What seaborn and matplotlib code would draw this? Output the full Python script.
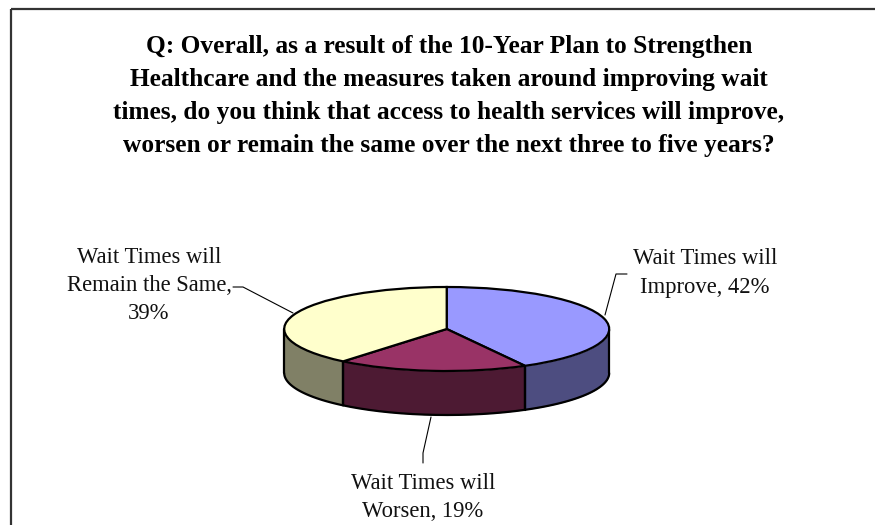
import numpy as np
import matplotlib
matplotlib.use("Agg")
import matplotlib.pyplot as plt
import seaborn as sns

# Survey results
categories = ["Wait Times will\nImprove", "Wait Times will\nWorsen", "Wait Times will\nRemain the Same"]
shares = [42, 19, 39]
top_colors = ["#9999FF", "#993366", "#FFFFCC"]
side_colors = ["#4D4D80", "#4D1A33", "#808066"]
title_lines = [
    "Q: Overall, as a result of the 10-Year Plan to Strengthen",
    "Healthcare and the measures taken around improving wait",
    "times, do you think that access to health services will improve,",
    "worsen or remain the same over the next three to five years?",
]

sns.set_theme(style="white")
plt.rcParams["font.family"] = ["Liberation Serif", "DejaVu Serif"]

W, H = 875, 525
fig = plt.figure(figsize=(W / 100, H / 100), dpi=100, facecolor="white")

# Full-figure layer measured in pixels, for the frame, text and leader lines
page = fig.add_axes([0, 0, 1, 1])
page.set_xlim(0, W)
page.set_ylim(H, 0)
page.axis("off")

# Disc geometry in pixels
cx, cy, rx, ry, depth = 446.7, 329.0, 162.5, 42.0, 44.0
edge_lw = 1.6

# Pie layer: one data unit is rx wide and ry tall, so the circle renders as an ellipse
pie_ax = fig.add_axes([(cx - rx) / W, (H - cy - ry - depth) / H, 2 * rx / W, (2 * ry + depth) / H])
pie_ax.set_zorder(1)
pie_ax.patch.set_alpha(0)
pie_ax.axis("off")

# Rim of the disc; only the front half (below the horizontal) is visible
drop = depth / ry
edges = 90 - np.cumsum([0] + shares) * 3.6
for i in range(len(shares)):
    hi, lo = edges[i], edges[i + 1]
    t = np.radians(np.linspace(hi, lo, 200))
    t = t[np.sin(t) <= 0]
    x, y = np.cos(t), np.sin(t)
    pie_ax.fill_between(x, y - drop, y, color=side_colors[i], linewidth=0, zorder=1)
    pie_ax.plot(x, y - drop, color="black", lw=edge_lw, zorder=2, solid_capstyle="round", clip_on=False)
    pie_ax.plot([x[0], x[0]], [y[0], y[0] - drop], color="black", lw=edge_lw, zorder=2, clip_on=False)
    pie_ax.plot([x[-1], x[-1]], [y[-1], y[-1] - drop], color="black", lw=edge_lw, zorder=2, clip_on=False)

wedges, _ = pie_ax.pie(
    shares, colors=top_colors, startangle=90, counterclock=False, radius=1,
    wedgeprops=dict(edgecolor="black", linewidth=edge_lw, clip_on=False),
)
for w in wedges:
    w.set_zorder(3)
pie_ax.set_aspect("auto")
pie_ax.set_xlim(-1, 1)
pie_ax.set_ylim(-1 - drop, 1)

# Frame: top and left edges only
page.plot([10.5, W], [8.5, 8.5], color="#333333", lw=1.6, solid_capstyle="butt")
page.plot([10.5, 10.5], [8.5, H], color="#333333", lw=1.6, solid_capstyle="butt")

for line, y in zip(title_lines, [53, 86, 119, 152]):
    page.text(449, y, line, ha="center", va="baseline", fontsize=18.3, fontweight="bold", color="black")

# Slice labels with their leader lines
label_pos = [(705, [264, 293]), (423, [489, 517]), (149, [263, 291, 319])]
label_lines = []
for cat, share in zip(categories, shares):
    parts = f"{cat}, {share}%".split("\n")
    if len(parts[-1]) > 14:
        head, tail = parts[-1].rsplit(" ", 1)
        parts = parts[:-1] + [head, tail]
    label_lines.append(parts)
for parts, (x, ys) in zip(label_lines, label_pos):
    for part, y in zip(parts, ys):
        page.text(x, y, part, ha="center", va="baseline", fontsize=16.3, color="#111111")

leaders = [
    ([627, 616, 605], [274, 274, 315]),
    ([431, 423, 423], [417, 453, 463]),
    ([233, 243, 293], [287, 287, 313]),
]
for xs, ys in leaders:
    page.plot(xs, ys, color="black", lw=0.8)

fig.savefig("out.png", dpi=100, facecolor="white")
